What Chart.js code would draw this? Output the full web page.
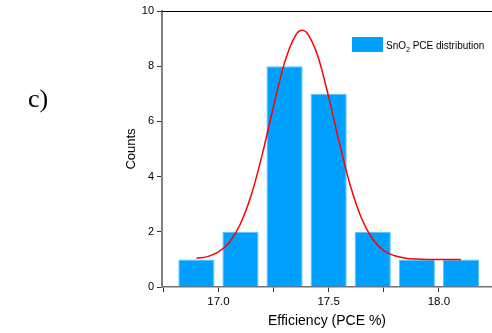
<!DOCTYPE html>
<html>
<head>
<meta charset="utf-8">
<script src="https://cdn.jsdelivr.net/npm/chart.js@4.4.1/dist/chart.umd.min.js"></script>
<style>
html,body{margin:0;padding:0;background:#fff;}
#wrap{width:492px;height:333px;}
</style>
</head>
<body>
<div id="wrap"><canvas id="grafica"></canvas></div>
<script>
// histogram bins (centre of bin) and counts
const binCenters=[16.9,17.1,17.3,17.5,17.7,17.9,18.1];
const counts=[1,2,8,7,2,1,1];
// fitted curve
const fitX=[16.9,16.95,17.0,17.05,17.1,17.15,17.2,17.25,17.3,17.35,17.38,17.4,17.45,17.5,17.55,17.6,17.65,17.7,17.75,17.8,17.85,17.9,17.95,18.0,18.05,18.1];
const fitY=[1.04,1.10,1.27,1.62,2.29,3.36,4.84,6.55,8.13,9.12,9.30,9.22,8.39,6.89,5.17,3.63,2.47,1.73,1.32,1.13,1.04,1.01,1.0,1.0,1.0,1.0];
const xTickLabels=[17.0,17.5,18.0];
const yTickLabels=[0,2,4,6,8,10];

const barColor="#00a0ff";
const font="'Liberation Sans', Arial, sans-serif";

const extras={
    id:"extras",
    afterDraw(chart){
        const c=chart.ctx, a=chart.chartArea;
        c.save();
        // top frame line
        c.strokeStyle="#000";
        c.lineWidth=1.2;
        c.beginPath();
        c.moveTo(a.left,a.top+0.5);
        c.lineTo(chart.width,a.top+0.5);
        c.stroke();
        // panel letter
        c.fillStyle="#000";
        c.font="26px 'Liberation Serif', 'Times New Roman', serif";
        c.textBaseline="alphabetic";
        c.fillText("c)",28,107);
        // legend
        const bx=352, by=37;
        c.fillStyle=barColor;
        c.fillRect(bx,by,31,15);
        c.fillStyle="#000";
        c.font="10px "+font;
        let tx=bx+34, ty=by+12;
        c.fillText("SnO",tx,ty);
        tx+=c.measureText("SnO").width;
        c.font="7px "+font;
        c.fillText("2",tx,ty+3);
        tx+=c.measureText("2").width;
        c.font="10px "+font;
        c.fillText(" PCE distribution",tx,ty);
        c.restore();
    }
};

const ctx1=document.getElementById("grafica");
new Chart(ctx1,{
    type:"bar",
    data:{
        datasets:[
            {
                type:"line",
                label:"fit",
                data:fitX.map((x,i)=>({x:x,y:fitY[i]})),
                borderColor:"#ff0000",
                borderWidth:1.5,
                pointRadius:0,
                cubicInterpolationMode:"monotone",
                order:0
            },
            {
                label:"SnO₂ PCE distribution",
                data:binCenters.map((x,i)=>({x:x,y:counts[i]})),
                backgroundColor:barColor,
                borderColor:"#5cc0ff",
                borderWidth:1,
                barPercentage:0.82,
                categoryPercentage:1,
                order:1
            }
        ]
    },
    options:{
        responsive:true,
        maintainAspectRatio:false,
        animation:false,
        layout:{padding:{left:120,top:11,right:0,bottom:0}},
        plugins:{
            legend:{display:false},
            tooltip:{enabled:false}
        },
        scales:{
            x:{
                type:"linear",
                min:16.744,
                max:18.241,
                offset:false,
                afterFit:s=>{s.height=46;},
                grid:{drawOnChartArea:false,offset:false,tickLength:5,tickColor:"#333",tickWidth:1},
                border:{color:"#707070",width:1.5},
                ticks:{
                    stepSize:0.25,
                    includeBounds:false,
                    autoSkip:false,
                    maxRotation:0,
                    padding:3,
                    color:"#000",
                    font:{family:font,size:11.5},
                    callback:v=>xTickLabels.some(t=>Math.abs(t-v)<1e-6)?v.toFixed(1):""
                },
                title:{display:true,text:"Efficiency (PCE %)",color:"#000",font:{family:font,size:14},padding:{top:0,bottom:3}}
            },
            y:{
                min:0,
                max:10,
                afterFit:s=>{s.width=42;},
                grid:{drawOnChartArea:false,tickLength:5,tickColor:"#333",tickWidth:1},
                border:{color:"#808080",width:2},
                ticks:{
                    stepSize:2,
                    padding:3,
                    color:"#000",
                    font:{family:font,size:11},
                    callback:v=>yTickLabels.includes(v)?String(v):""
                },
                title:{display:true,text:"Counts",color:"#000",font:{family:font,size:13},padding:{top:4,bottom:0}}
            }
        }
    },
    plugins:[extras]
});
</script>
</body>
</html>
